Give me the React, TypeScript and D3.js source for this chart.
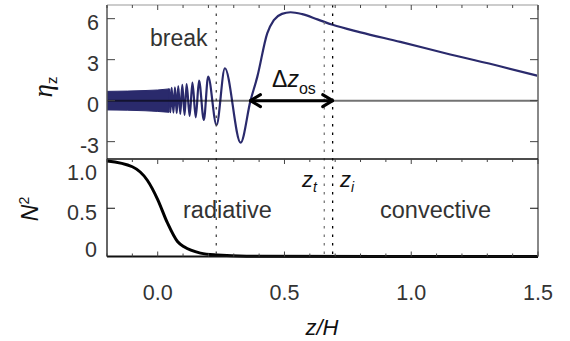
import { useEffect, useRef } from 'react';
import * as d3 from 'd3';

// dense, unresolved oscillation band at the left of the upper panel
const bandZ = [-0.2, -0.12, -0.05, 0.0, 0.045];
const bandUpper = [0.68, 0.7, 0.74, 0.78, 0.86];
const bandLower = [-0.68, -0.7, -0.74, -0.79, -0.85];

// eta_z curve: peaks / troughs and the smooth overshoot part
const waveZ = [0.045, 0.05, 0.055, 0.062, 0.068, 0.075, 0.081, 0.089, 0.097, 0.106, 0.114, 0.126, 0.137, 0.15, 0.163, 0.182, 0.199, 0.232, 0.265, 0.327, 0.366, 0.393, 0.432, 0.458, 0.49, 0.524, 0.57, 0.63, 0.69, 0.8, 0.957, 1.154, 1.35, 1.5];
const waveEta = [0.88, -0.85, 0.93, -0.88, 0.98, -0.92, 1.07, -0.97, 1.15, -1.05, 1.22, -1.12, 1.32, -1.22, 1.46, -1.41, 1.76, -1.78, 2.37, -3.07, 0, 1.76, 4.93, 5.9, 6.35, 6.47, 6.33, 5.95, 5.55, 5.0, 4.3, 3.38, 2.52, 1.81];

// N^2 profile
const nZ = [-0.2, -0.1, -0.041, 0.0, 0.038, 0.078, 0.104, 0.169, 0.235, 0.35, 1.5];
const nSq = [0.99, 0.93, 0.79, 0.59, 0.35, 0.155, 0.1, 0.035, 0.015, 0.003, 0];

// ticks
const topTicks = [-3, 0, 3, 6];
const topTickLabels = ['-3', '0', '3', '6'];
const botTicks = [0, 0.5, 1];
const botTickLabels = ['0', '0.5', '1.0'];
const xTicks = [0, 0.5, 1, 1.5];
const xTickLabels = ['0.0', '0.5', '1.0', '1.5'];

// marker positions
const zBreak = 0.231;
const zT = 0.657;
const zI = 0.69;
const zArrowStart = 0.366;

const SANS = 'Liberation Sans, Arial, Helvetica, sans-serif';

export default function App() {
    const svgRef = useRef<SVGSVGElement>(null);

    useEffect(() => {
        if (!svgRef.current) return;
        const svg = d3.select(svgRef.current);
        svg.selectAll('*').remove();

        const x = d3.scaleLinear().domain([-0.2, 1.5]).range([107, 538]);
        const yT = d3.scaleLinear().domain([-4.27, 7]).range([159, 5]);
        const yB = d3.scaleLinear().domain([0, 1]).range([256.5, 160]);
        const left = 107, right = 538, top = 5, mid = 159, bottom = 256.5;

        const defs = svg.append('defs');
        defs.append('clipPath').attr('id', 'clipTop')
            .append('rect').attr('x', left).attr('y', top).attr('width', right - left).attr('height', mid - top);
        defs.append('clipPath').attr('id', 'clipBot')
            .append('rect').attr('x', left).attr('y', mid).attr('width', right - left).attr('height', bottom - mid + 2);

        // upper panel
        const gT = svg.append('g').attr('clip-path', 'url(#clipTop)');
        const band = d3.area<number>()
            .x((_, i) => x(bandZ[i]))
            .y0((_, i) => yT(bandLower[i]))
            .y1((_, i) => yT(bandUpper[i]))
            .curve(d3.curveMonotoneX);
        gT.append('path')
            .datum(bandZ)
            .attr('d', band)
            .attr('fill', '#2a2a6c')
            .attr('stroke', '#2a2a6c')
            .attr('stroke-width', 1);

        const wave = d3.line<number>()
            .x((_, i) => x(waveZ[i]))
            .y((_, i) => yT(waveEta[i]))
            .curve(d3.curveMonotoneX);
        gT.append('path')
            .datum(waveZ)
            .attr('d', wave)
            .attr('fill', 'none')
            .attr('stroke', '#2a2a6c')
            .attr('stroke-width', 2.2);

        // zero line
        gT.append('line')
            .attr('x1', left).attr('x2', right)
            .attr('y1', yT(0)).attr('y2', yT(0))
            .attr('stroke', '#000')
            .attr('stroke-opacity', 0.55)
            .attr('stroke-width', 2);

        // lower panel
        const gB = svg.append('g').attr('clip-path', 'url(#clipBot)');
        const nLine = d3.line<number>()
            .x((_, i) => x(nZ[i]))
            .y((_, i) => yB(nSq[i]))
            .curve(d3.curveMonotoneX);
        gB.append('path')
            .datum(nZ)
            .attr('d', nLine)
            .attr('fill', 'none')
            .attr('stroke', '#000')
            .attr('stroke-width', 3);

        // vertical dotted markers
        const markers = [
            { z: zBreak, c: '#444' },
            { z: zT, c: '#777' },
            { z: zI, c: '#000' }
        ];
        svg.selectAll('.marker')
            .data(markers)
            .enter()
            .append('line')
            .attr('class', 'marker')
            .attr('x1', d => x(d.z)).attr('x2', d => x(d.z))
            .attr('y1', top).attr('y2', bottom)
            .attr('stroke', d => d.c)
            .attr('stroke-width', 1.3)
            .attr('stroke-dasharray', '2.5,6');

        // frame
        const frame = [
            { x1: left, y1: top, x2: left, y2: mid, c: '#555', w: 1.5 },
            { x1: left, y1: top, x2: right, y2: top, c: '#999', w: 1.2 },
            { x1: right, y1: top, x2: right, y2: bottom, c: '#888', w: 2 },
            { x1: left, y1: mid, x2: right, y2: mid, c: '#111', w: 1.5 },
            { x1: left, y1: mid, x2: left, y2: bottom, c: '#333', w: 1.5 },
            { x1: left, y1: bottom, x2: right, y2: bottom, c: '#111', w: 2 }
        ];
        svg.selectAll('.frame')
            .data(frame)
            .enter()
            .append('line')
            .attr('class', 'frame')
            .attr('x1', d => d.x1).attr('y1', d => d.y1)
            .attr('x2', d => d.x2).attr('y2', d => d.y2)
            .attr('stroke', d => d.c)
            .attr('stroke-width', d => d.w);

        // ticks (all inward)
        const minor = d3.range(-2, 16).map(i => i / 10);
        const tickG = svg.append('g').attr('stroke', '#444').attr('stroke-width', 1);
        minor.forEach(v => {
            const major = xTicks.some(t => Math.abs(t - v) < 1e-6);
            const len = major ? 5 : 3;
            tickG.append('line').attr('x1', x(v)).attr('x2', x(v)).attr('y1', top).attr('y2', top + len);
            tickG.append('line').attr('x1', x(v)).attr('x2', x(v)).attr('y1', mid).attr('y2', mid + len);
            tickG.append('line').attr('x1', x(v)).attr('x2', x(v)).attr('y1', bottom).attr('y2', bottom - len);
        });
        topTicks.forEach(v => {
            tickG.append('line').attr('x1', left).attr('x2', left + 8).attr('y1', yT(v)).attr('y2', yT(v));
            tickG.append('line').attr('x1', right).attr('x2', right - 8).attr('y1', yT(v)).attr('y2', yT(v));
        });
        tickG.append('line').attr('x1', left).attr('x2', left + 8).attr('y1', yB(0.5)).attr('y2', yB(0.5)).attr('stroke', '#111');
        tickG.append('line').attr('x1', right).attr('x2', right - 8).attr('y1', yB(0.5)).attr('y2', yB(0.5)).attr('stroke', '#111');

        // arrow for delta z_os
        const ay = yT(0);
        const ax1 = x(zArrowStart), ax2 = x(zI);
        const arrow = svg.append('g').attr('stroke', '#000').attr('stroke-width', 3).attr('fill', 'none')
            .attr('stroke-linecap', 'round').attr('stroke-linejoin', 'round');
        arrow.append('line').attr('x1', ax1).attr('x2', ax2).attr('y1', ay).attr('y2', ay);
        arrow.append('path').attr('d', `M${ax1 + 10},${ay - 6}L${ax1},${ay}L${ax1 + 10},${ay + 6}`);
        arrow.append('path').attr('d', `M${ax2 - 10},${ay - 6}L${ax2},${ay}L${ax2 - 10},${ay + 6}`);

        // tick labels
        const txt = svg.append('g').attr('font-family', SANS).attr('fill', '#333');
        topTicks.forEach((v, i) => {
            txt.append('text').attr('x', 99).attr('y', yT(v) + 11.5)
                .attr('text-anchor', 'end').attr('font-size', 21.5).text(topTickLabels[i]);
        });
        const botOffsets = [0, 12, 20];
        botTicks.forEach((v, i) => {
            txt.append('text').attr('x', 97).attr('y', yB(v) + botOffsets[i])
                .attr('text-anchor', 'end').attr('font-size', 21.5).text(botTickLabels[i]);
        });
        xTicks.forEach((v, i) => {
            txt.append('text').attr('x', x(v)).attr('y', 299.5)
                .attr('text-anchor', 'middle').attr('font-size', 21.5).text(xTickLabels[i]);
        });

        // annotations
        txt.append('text').attr('x', 150).attr('y', 46).attr('font-size', 23).text('break');
        txt.append('text').attr('x', 183).attr('y', 218).attr('font-size', 23.5).text('radiative');
        txt.append('text').attr('x', 380).attr('y', 218).attr('font-size', 23.5).text('convective');

        const dz = txt.append('text').attr('x', 272).attr('y', 87).attr('font-size', 23).attr('fill', '#111');
        dz.append('tspan').text('Δ');
        dz.append('tspan').attr('font-style', 'italic').text('z');
        dz.append('tspan').attr('font-size', 16).attr('dy', 7).text('os');

        const zt = txt.append('text').attr('x', 302).attr('y', 187).attr('font-size', 22).attr('fill', '#111');
        zt.append('tspan').attr('font-style', 'italic').text('z');
        zt.append('tspan').attr('font-size', 14).attr('font-style', 'italic').attr('dy', 5).text('t');

        const zi = txt.append('text').attr('x', 340).attr('y', 187).attr('font-size', 22).attr('fill', '#111');
        zi.append('tspan').attr('font-style', 'italic').text('z');
        zi.append('tspan').attr('font-size', 14).attr('font-style', 'italic').attr('dy', 5).text('i');

        // axis titles
        txt.append('text').attr('x', 322).attr('y', 335).attr('text-anchor', 'middle')
            .attr('font-size', 22).attr('font-style', 'italic').attr('fill', '#111').text('z/H');

        const eta = txt.append('text').attr('transform', 'translate(52,87) rotate(-90)')
            .attr('text-anchor', 'middle').attr('fill', '#111');
        eta.append('tspan').attr('font-family', 'Liberation Serif, serif').attr('font-style', 'italic')
            .attr('font-size', 27).text('η');
        eta.append('tspan').attr('font-size', 15).attr('dy', 5).text('z');

        const nsq = txt.append('text').attr('transform', 'translate(38,209) rotate(-90)')
            .attr('text-anchor', 'middle').attr('fill', '#111');
        nsq.append('tspan').attr('font-size', 23).attr('font-style', 'italic').text('N');
        nsq.append('tspan').attr('font-size', 14).attr('dy', -9).text('2');
    }, []);

    return (
        <div style={{ position: 'absolute', left: 0, top: 0 }}>
            <svg ref={svgRef} width={570} height={341} style={{ display: 'block', background: '#fff' }} />
        </div>
    );
}
